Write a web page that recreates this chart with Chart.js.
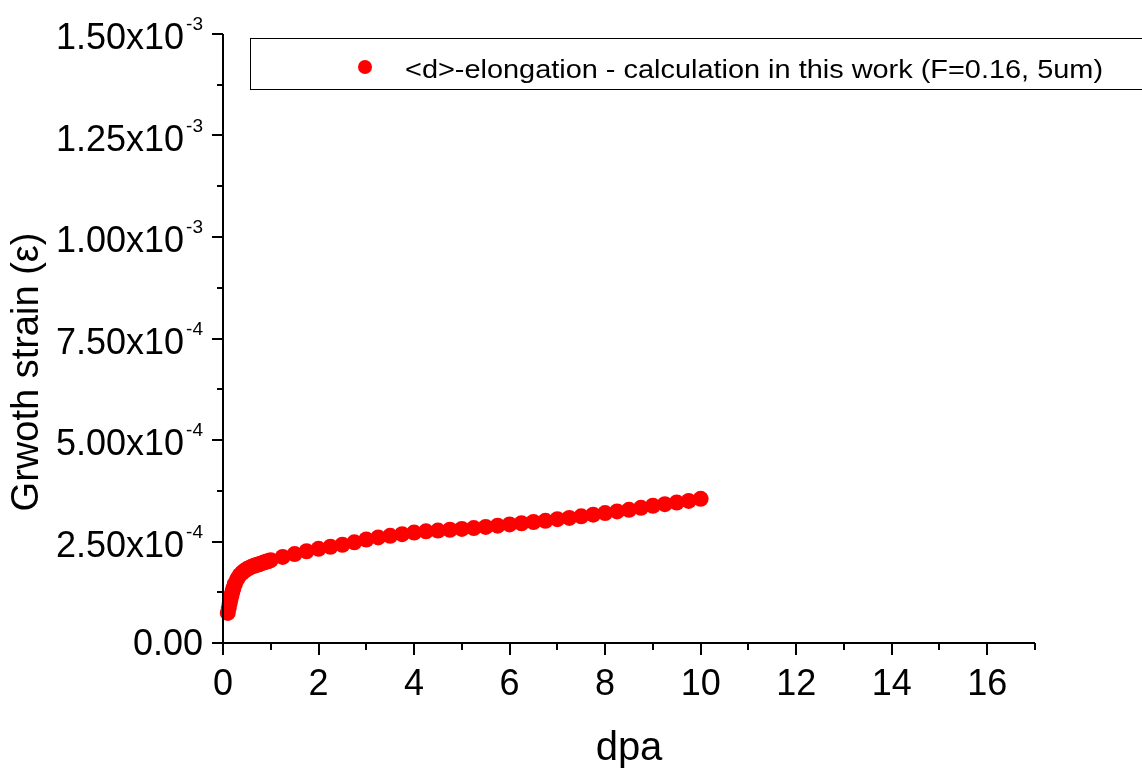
<!DOCTYPE html>
<html>
<head>
<meta charset="utf-8">
<script src="https://cdn.jsdelivr.net/npm/chart.js@4/dist/chart.umd.min.js"></script>
<style>
  html, body { margin: 0; padding: 0; background: #fff; }
</style>
</head>
<body>
<canvas id="chart" width="1142" height="770"></canvas>
<script>
// values
const seriesLabel = '<d>-elongation - calculation in this work (F=0.16, 5um)'
const dpa = [
  0.1, 0.12, 0.14, 0.16, 0.18, 0.2, 0.22, 0.25, 0.3, 0.35, 0.4, 0.45, 0.5,
  0.55, 0.6, 0.65, 0.7, 0.75, 0.8, 0.85, 0.9, 0.95, 1.0,
  1.25, 1.5, 1.75, 2.0, 2.25, 2.5, 2.75, 3.0, 3.25, 3.5, 3.75, 4.0,
  4.25, 4.5, 4.75, 5.0, 5.25, 5.5, 5.75, 6.0, 6.25, 6.5, 6.75, 7.0,
  7.25, 7.5, 7.75, 8.0, 8.25, 8.5, 8.75, 9.0, 9.25, 9.5, 9.75, 10.0
]
const strain = [
  0.74e-4, 0.86e-4, 0.98e-4, 1.09e-4, 1.19e-4, 1.28e-4, 1.36e-4, 1.46e-4, 1.58e-4, 1.67e-4, 1.73e-4, 1.78e-4, 1.82e-4,
  1.85e-4, 1.88e-4, 1.90e-4, 1.92e-4, 1.94e-4, 1.96e-4, 1.98e-4, 2.00e-4, 2.02e-4, 2.04e-4,
  2.12e-4, 2.19e-4, 2.26e-4, 2.32e-4, 2.37e-4, 2.42e-4, 2.48e-4, 2.55e-4, 2.60e-4, 2.64e-4, 2.68e-4, 2.72e-4,
  2.75e-4, 2.77e-4, 2.79e-4, 2.81e-4, 2.83e-4, 2.86e-4, 2.89e-4, 2.92e-4, 2.95e-4, 2.98e-4, 3.01e-4, 3.05e-4,
  3.08e-4, 3.12e-4, 3.16e-4, 3.20e-4, 3.24e-4, 3.28e-4, 3.33e-4, 3.38e-4, 3.42e-4, 3.46e-4, 3.50e-4, 3.55e-4
]
const xTicks = [0, 2, 4, 6, 8, 10, 12, 14, 16]
const yTicks = [0, 2.5e-4, 5e-4, 7.5e-4, 1e-3, 1.25e-3, 1.5e-3]
const yTickMain = ['0.00', '2.50x10', '5.00x10', '7.50x10', '1.00x10', '1.25x10', '1.50x10']
const yTickExp = ['', '-4', '-4', '-4', '-3', '-3', '-3']
const xTitle = 'dpa'
const yTitle = 'Grwoth strain (\u03b5)'

const FONT = '"Liberation Sans", Arial, sans-serif'

// Origin-style axes, ticks, labels and legend drawn over the plot
const originAxes = {
  id: 'originAxes',
  afterDraw(chart) {
    const { ctx, chartArea: a, scales: { x, y } } = chart
    ctx.save()
    ctx.strokeStyle = '#000'
    ctx.fillStyle = '#000'
    ctx.lineWidth = 2
    ctx.beginPath()
    ctx.moveTo(a.left, a.top)
    ctx.lineTo(a.left, a.bottom)
    ctx.lineTo(a.right, a.bottom)
    // x ticks: major every 2, minor in between
    for (let v = x.min; v <= x.max; v++) {
      const px = Math.round(x.getPixelForValue(v))
      ctx.moveTo(px, a.bottom)
      ctx.lineTo(px, a.bottom + (v % 2 ? 7 : 12))
    }
    // y ticks: major every 2.5e-4, minor in between
    for (let i = 0; i <= 12; i++) {
      const py = Math.round(y.getPixelForValue(i * 1.25e-4))
      ctx.moveTo(a.left, py)
      ctx.lineTo(a.left - (i % 2 ? 6 : 11), py)
    }
    ctx.stroke()

    // x tick labels
    ctx.font = '36px ' + FONT
    ctx.textAlign = 'center'
    ctx.textBaseline = 'alphabetic'
    xTicks.forEach(v => ctx.fillText(String(v), x.getPixelForValue(v), a.bottom + 52))

    // y tick labels with superscript exponent
    ctx.textAlign = 'left'
    yTicks.forEach((v, i) => {
      const py = y.getPixelForValue(v)
      ctx.font = '19px ' + FONT
      const ew = yTickExp[i] ? ctx.measureText(yTickExp[i]).width + 2 : 0
      ctx.font = '36px ' + FONT
      const mw = ctx.measureText(yTickMain[i]).width
      const right = a.left - 20
      if (yTickExp[i]) {
        ctx.fillText(yTickMain[i], right - ew - mw, py + 15)
        ctx.font = '19px ' + FONT
        ctx.fillText(yTickExp[i], right - ew + 2, py - 4)
      } else {
        ctx.fillText(yTickMain[i], right - mw, py + 12)
      }
    })

    // axis titles
    ctx.font = '40px ' + FONT
    ctx.textAlign = 'center'
    ctx.fillText(xTitle, (a.left + a.right) / 2, 760)
    ctx.save()
    ctx.translate(38, 372)
    ctx.rotate(-Math.PI / 2)
    ctx.font = '38px ' + FONT
    ctx.fillText(yTitle, 0, 0)
    ctx.restore()

    // legend box running off the right edge
    ctx.lineWidth = 1
    ctx.strokeRect(250.5, 38.5, 920, 51)
    ctx.fillStyle = '#ff0000'
    ctx.beginPath()
    ctx.arc(365, 67, 7, 0, Math.PI * 2)
    ctx.fill()
    ctx.fillStyle = '#000'
    ctx.font = '25px ' + FONT
    ctx.textAlign = 'left'
    const tw = ctx.measureText(seriesLabel).width
    ctx.translate(405, 78)
    ctx.scale(698 / tw, 1)
    ctx.fillText(seriesLabel, 0, 0)
    ctx.restore()
  }
}

new Chart(document.getElementById('chart'), {
  type: 'scatter',
  data: {
    datasets: [{
      label: seriesLabel,
      data: dpa.map((d, i) => ({ x: d, y: strain[i] })),
      backgroundColor: '#ff0000',
      borderWidth: 0,
      pointRadius: 8,
      pointHoverRadius: 8,
      clip: false
    }]
  },
  options: {
    responsive: false,
    animation: false,
    events: [],
    layout: { padding: { top: 34, right: 107, left: 0, bottom: 0 } },
    plugins: { legend: { display: false }, tooltip: { enabled: false } },
    scales: {
      x: {
        type: 'linear', min: 0, max: 17,
        ticks: { display: false, stepSize: 2 },
        grid: { display: false }, border: { display: false },
        afterFit: s => { s.height = 127 }
      },
      y: {
        type: 'linear', min: 0, max: 1.5e-3,
        ticks: { display: false, stepSize: 2.5e-4 },
        grid: { display: false }, border: { display: false },
        afterFit: s => { s.width = 223 }
      }
    }
  },
  plugins: [originAxes]
})
</script>
</body>
</html>
